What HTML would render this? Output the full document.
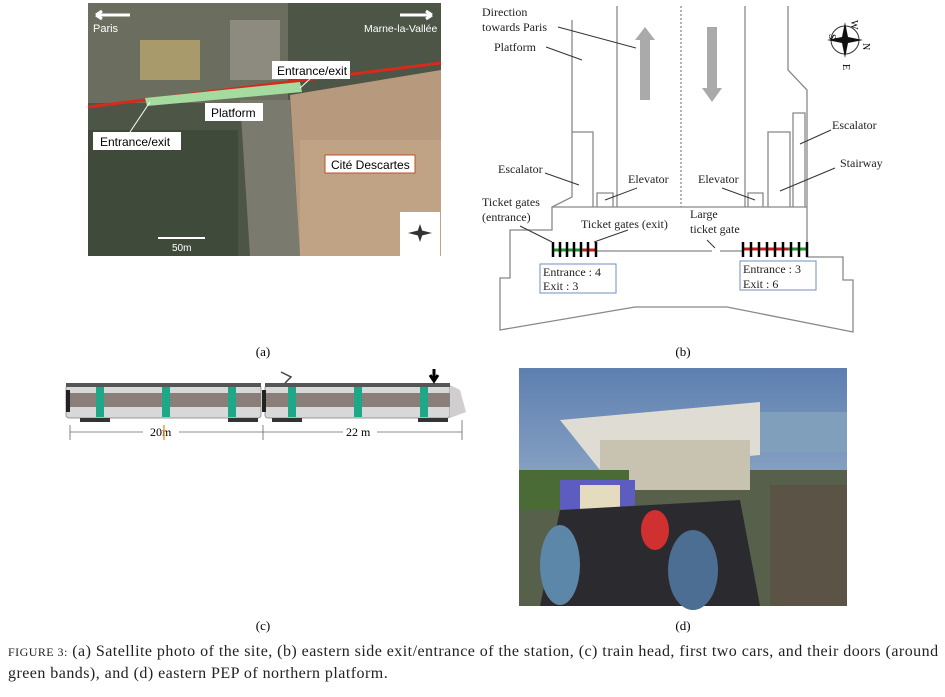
<!DOCTYPE html>
<html><head><meta charset="utf-8"><style>
body{margin:0;background:#fff;width:945px;height:697px;overflow:hidden;font-family:"Liberation Serif",serif}
svg{position:absolute;left:0;top:0}
.cap{position:absolute;left:8px;top:641px;font-size:16px;letter-spacing:0.46px;line-height:21px;color:#222;width:937px;white-space:nowrap}
</style></head><body>
<svg width="945" height="697" viewBox="0 0 945 697" xmlns="http://www.w3.org/2000/svg" font-family="Liberation Serif, serif">
<defs>
<linearGradient id="sky" x1="0" y1="0" x2="0" y2="1"><stop offset="0" stop-color="#5d7fb0"/><stop offset="1" stop-color="#b9c9d9"/></linearGradient>
</defs>
<!-- (a) satellite -->
<rect x="88" y="3" width="353" height="253" fill="#4d5546"/>
<rect x="88" y="3" width="200" height="100" fill="#6b6e5e"/>
<rect x="140" y="40" width="60" height="40" fill="#a89a6a"/>
<rect x="230" y="20" width="50" height="60" fill="#8d8b80"/>
<rect x="88" y="130" width="150" height="126" fill="#3f4a3a"/>
<polygon points="240,100 290,100 300,256 250,256" fill="#7a7a6e"/>
<polygon points="290,95 441,70 441,256 300,256" fill="#b79a7e"/>
<rect x="300" y="140" width="141" height="116" fill="#c0a284"/>
<line x1="88" y1="107" x2="441" y2="63" stroke="#d62a1a" stroke-width="3"/>
<polygon points="145,98 300,82 302,92 147,106" fill="#a6dba0"/>
<rect x="272" y="61" width="78" height="18" fill="#fff"/><text x="277" y="75" font-family="Liberation Sans, sans-serif" font-size="12">Entrance/exit</text>
<rect x="205" y="103" width="58" height="18" fill="#fff"/><text x="211" y="117" font-family="Liberation Sans, sans-serif" font-size="12">Platform</text>
<rect x="93" y="132" width="88" height="18" fill="#fff"/><text x="100" y="146" font-family="Liberation Sans, sans-serif" font-size="12">Entrance/exit</text>
<line x1="150" y1="102" x2="130" y2="132" stroke="#fff"/>
<line x1="300" y1="88" x2="310" y2="79" stroke="#fff"/>
<rect x="325" y="155" width="90" height="18" fill="#fff" stroke="#c0502a"/><text x="331" y="169" font-family="Liberation Sans, sans-serif" font-size="12">Cité Descartes</text>
<text x="93" y="32" fill="#fff" font-family="Liberation Sans, sans-serif" font-size="11">Paris</text>
<text x="364" y="32" fill="#fff" font-family="Liberation Sans, sans-serif" font-size="10.5">Marne-la-Vallée</text>
<path d="M96 15 L130 15 M96 15 l6 -4 M96 15 l6 4" stroke="#fff" stroke-width="3" fill="none"/>
<path d="M432 15 L400 15 M432 15 l-6 -4 M432 15 l-6 4" stroke="#fff" stroke-width="3" fill="none"/>
<line x1="158" y1="238" x2="205" y2="238" stroke="#fff" stroke-width="2"/>
<text x="172" y="251" fill="#fff" font-family="Liberation Sans, sans-serif" font-size="10">50m</text>
<rect x="400" y="212" width="40" height="44" fill="#fff"/>
<path d="M420 224 l3 9 -3 9 -3 -9z M408 233 l12 -3 12 3 -12 3z" fill="#333"/>
<text x="263" y="356" font-size="13" text-anchor="middle">(a)</text>

<!-- (b) plan -->
<g stroke="#888" stroke-width="1.3" fill="none">
<polyline points="572,20 572,197 552,207 552,230 510,230 510,278 500,278 500,330 635,307 727,307 853,332 853,280 843,280 843,257 807,257 807,90 788,70 788,6"/>
<line x1="617" y1="6" x2="617" y2="207"/>
<line x1="745" y1="6" x2="745" y2="207"/>
<line x1="681" y1="6" x2="681" y2="207" stroke-dasharray="2,2"/>
<line x1="552" y1="207" x2="807" y2="207"/>
<polyline points="572,132 593,132 593,207"/>
<polyline points="597,207 597,193 613,193 613,207"/>
<polyline points="748,207 748,193 763,193 763,207"/>
<polyline points="768,207 768,132 790,132 790,207"/>
<polyline points="793,207 793,113 805,113 805,207"/>
<line x1="597" y1="251" x2="712" y2="251"/>
<line x1="720" y1="251" x2="742" y2="251"/>
</g>
<rect x="640" y="37" width="10" height="63" fill="#aaa"/><polygon points="635,40 645,27 655,40" fill="#aaa"/>
<rect x="707" y="27" width="10" height="63" fill="#aaa"/><polygon points="702,88 712,102 722,88" fill="#aaa"/>
<g>
<line x1="553" y1="250" x2="583" y2="250" stroke="#1a9a2a" stroke-width="3"/><line x1="583" y1="250" x2="597" y2="250" stroke="#d01818" stroke-width="3"/>
<g stroke="#000" stroke-width="2.5"><line x1="553" y1="242" x2="553" y2="257"/><line x1="560" y1="242" x2="560" y2="257"/><line x1="567" y1="242" x2="567" y2="257"/><line x1="574" y1="242" x2="574" y2="257"/><line x1="581" y1="242" x2="581" y2="257"/><line x1="588" y1="242" x2="588" y2="257"/><line x1="596" y1="242" x2="596" y2="257"/></g>
<line x1="742" y1="249" x2="788" y2="249" stroke="#d01818" stroke-width="3"/><line x1="788" y1="249" x2="808" y2="249" stroke="#1a9a2a" stroke-width="3"/>
<g stroke="#000" stroke-width="2.5"><line x1="743" y1="242" x2="743" y2="257"/><line x1="751" y1="242" x2="751" y2="257"/><line x1="759" y1="242" x2="759" y2="257"/><line x1="767" y1="242" x2="767" y2="257"/><line x1="775" y1="242" x2="775" y2="257"/><line x1="783" y1="242" x2="783" y2="257"/><line x1="791" y1="242" x2="791" y2="257"/><line x1="799" y1="242" x2="799" y2="257"/><line x1="807" y1="242" x2="807" y2="257"/></g>
</g>
<rect x="540" y="264" width="76" height="29" fill="none" stroke="#6f8fbf"/>
<rect x="740" y="261" width="76" height="29" fill="none" stroke="#6f8fbf"/>
<g font-size="12" fill="#222">
<text x="543" y="276">Entrance : 4</text><text x="543" y="290">Exit : 3</text>
<text x="743" y="273">Entrance : 3</text><text x="743" y="288">Exit : 6</text>
<text x="482" y="16">Direction</text><text x="482" y="31">towards Paris</text>
<text x="494" y="51">Platform</text>
<text x="498" y="173">Escalator</text>
<text x="482" y="206">Ticket gates</text><text x="482" y="221">(entrance)</text>
<text x="628" y="183">Elevator</text>
<text x="698" y="183">Elevator</text>
<text x="581" y="228">Ticket gates (exit)</text>
<text x="690" y="218">Large</text><text x="690" y="233">ticket gate</text>
<text x="832" y="129">Escalator</text>
<text x="840" y="167">Stairway</text>
</g>
<g stroke="#333" stroke-width="1" fill="none">
<path d="M558 27 L636 48"/><path d="M546 47 L582 60"/><path d="M545 173 L579 185"/><path d="M520 226 L552 242"/>
<path d="M637 188 L605 200"/><path d="M722 188 L755 200"/><path d="M628 230 L594 242"/><path d="M707 240 L715 248"/>
<path d="M831 130 L800 144"/><path d="M835 168 L780 191"/>
</g>
<g transform="translate(845,40)">
<circle r="14" fill="none" stroke="#333"/>
<path d="M0 -18 L3 -3 18 0 3 3 0 18 -3 3 -18 0 -3 -3z" fill="#111"/>
<text x="6" y="-20" font-size="10" transform="rotate(90 6 -20)">W</text>
<text x="18" y="3" font-size="10" transform="rotate(90 18 3)">N</text>
<text x="-16" y="-6" font-size="10" transform="rotate(90 -16 -6)">S</text>
<text x="-2" y="24" font-size="10" transform="rotate(90 -2 24)">E</text>
</g>
<text x="683" y="356" font-size="13" text-anchor="middle">(b)</text>

<!-- (c) train -->
<g>
<rect x="66" y="385" width="195" height="33" rx="3" fill="#d8d8d8" stroke="#999"/>
<rect x="265" y="385" width="185" height="33" rx="3" fill="#d8d8d8" stroke="#999"/>
<polygon points="450,385 460,390 466,412 450,418" fill="#cfcfcf"/>
<rect x="66" y="393" width="195" height="14" fill="#8a7f78"/>
<rect x="265" y="393" width="185" height="14" fill="#8a7f78"/>
<rect x="66" y="383" width="195" height="4" fill="#555"/>
<rect x="265" y="383" width="185" height="4" fill="#555"/>
<path d="M285 383 l6 -6 -10 -5" stroke="#444" stroke-width="1.5" fill="none"/>
<g fill="#1ea888"><rect x="96" y="387" width="8" height="30"/><rect x="162" y="387" width="8" height="30"/><rect x="228" y="387" width="8" height="30"/><rect x="288" y="387" width="8" height="30"/><rect x="354" y="387" width="8" height="30"/><rect x="420" y="387" width="8" height="30"/></g>
<rect x="66" y="390" width="4" height="22" fill="#222"/><rect x="262" y="390" width="4" height="22" fill="#222"/>
<g fill="#333"><rect x="80" y="418" width="30" height="4"/><rect x="228" y="418" width="30" height="4"/><rect x="272" y="418" width="30" height="4"/><rect x="418" y="418" width="30" height="4"/></g>
<path d="M434 369 L434 378 M430 375 L434 381 438 375" stroke="#000" stroke-width="3" fill="none"/>
<g stroke="#666" stroke-width="0.8"><line x1="70" y1="432" x2="263" y2="432"/><line x1="263" y1="432" x2="462" y2="432"/><line x1="70" y1="425" x2="70" y2="440"/><line x1="263" y1="425" x2="263" y2="440"/><line x1="462" y1="420" x2="462" y2="440"/></g>
<rect x="143" y="424" width="36" height="14" fill="#fff"/><rect x="343" y="424" width="34" height="14" fill="#fff"/>
<text x="150" y="436" font-size="12">20m</text><line x1="164" y1="425" x2="164" y2="440" stroke="#f0a020" stroke-width="1.5"/>
<text x="346" y="436" font-size="12">22 m</text>
<text x="263" y="630" font-size="13" text-anchor="middle">(c)</text>

<!-- (d) photo -->
<rect x="519" y="368" width="328" height="238" fill="url(#sky)"/>
<rect x="519" y="470" width="328" height="136" fill="#56604a"/>
<polygon points="560,420 760,402 760,455 600,470" fill="#dedcd3"/>
<rect x="600" y="440" width="150" height="50" fill="#c8c2b0"/>
<rect x="760" y="412" width="87" height="40" fill="#7f9fba"/>
<rect x="519" y="470" width="110" height="40" fill="#4a6a36"/>
<rect x="560" y="480" width="75" height="30" fill="#5d5cc0"/>
<rect x="580" y="485" width="40" height="25" fill="#e5dcc0"/>
<rect x="770" y="485" width="77" height="121" fill="#5b5346"/>
<polygon points="540,606 560,510 740,500 760,606" fill="#2b2a2f"/>
<ellipse cx="655" cy="530" rx="14" ry="20" fill="#d03030"/>
<ellipse cx="693" cy="570" rx="25" ry="40" fill="#4b6e92"/>
<ellipse cx="560" cy="565" rx="20" ry="40" fill="#5d87a8"/>
<text x="683" y="630" font-size="13" text-anchor="middle">(d)</text>
</svg>
<div class="cap"><span style="font-size:12px">FIGURE 3:</span> (a) Satellite photo of the site, (b) eastern side exit/entrance of the station, (c) train head, first two cars, and their doors (around<br>green bands), and (d) eastern PEP of northern platform.</div>
</body></html>
